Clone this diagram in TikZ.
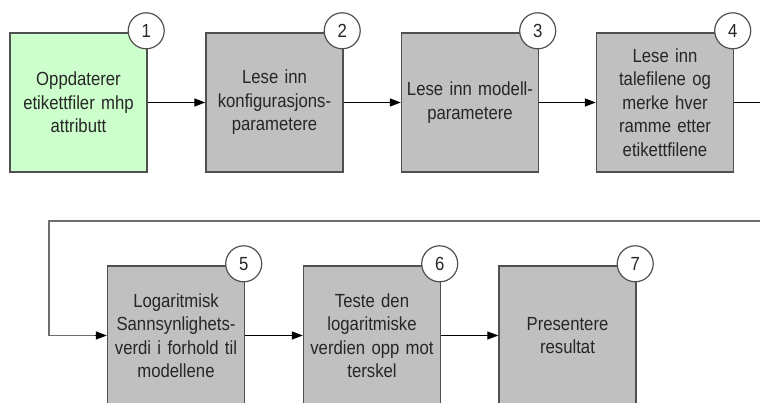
\documentclass[tikz,border=0pt]{standalone}
\usepackage{fontspec}
\setmainfont{Liberation Sans}[FakeStretch=0.88]
\usetikzlibrary{arrows.meta}
\definecolor{stepgray}{HTML}{C0C0C0}
\definecolor{stepgreen}{HTML}{CCFFCC}
\definecolor{edgegray}{HTML}{505050}
\definecolor{loopgray}{HTML}{6E6E6E}
\definecolor{txt}{HTML}{262626}
\begin{document}
\begin{tikzpicture}[x=1pt,y=-1pt,
  every node/.style={font=\fontsize{19}{23.5}\selectfont, text=txt},
  stepbox/.style={draw=edgegray, line width=1.4pt, fill=stepgray,
    minimum width=137pt, minimum height=139pt, text width=132pt,
    align=center, inner sep=0pt},
  numcircle/.style={circle, draw=edgegray, line width=1.2pt, fill=white,
    minimum size=36pt, inner sep=0pt},
  flow/.style={line width=1.3pt, draw=black, -{Triangle[length=11pt,width=8pt]}},
  loopline/.style={line width=1.8pt, draw=loopgray}]
  \useasboundingbox (0,0) rectangle (760,403);

  % first row
  \node[stepbox, fill=stepgreen] (s1) at (78.5,102.5) {Oppdaterer\\etikettfiler mhp\\attributt};
  \node[stepbox] (s2) at (274.5,102.5) {Lese inn\\konfigurasjons-\\parametere};
  \node[stepbox] (s3) at (470,102.5) {Lese inn modell-\\parametere};
  \node[stepbox] (s4) at (665,102.5) {Lese inn\\talefilene og\\merke hver\\ramme etter\\etikettfilene};

  % second row
  \node[stepbox] (s5) at (176,335.5) {Logaritmisk\\Sannsynlighets-\\verdi i forhold til\\modellene};
  \node[stepbox] (s6) at (372,335.5) {Teste den\\logaritmiske\\verdien opp mot\\terskel};
  \node[stepbox] (s7) at (567.5,335.5) {Presentere\\resultat};

  % step numbers
  \foreach \i in {1,...,7}
    \node[numcircle] (n\i) at ([xshift=-1.5pt,yshift=1.5pt]s\i.north east) {\i};

  % connectors within the rows
  \draw[flow] (s1) -- (s2);
  \draw[flow] (s2) -- (s3);
  \draw[flow] (s3) -- (s4);
  \draw[flow] (s5) -- (s6);
  \draw[flow] (s6) -- (s7);

  % wrap-around from the first row to the second
  \coordinate (out) at (762,102.5);
  \coordinate (wrapR) at (762,221);
  \coordinate (wrapL) at (49,221);
  \coordinate (wrapD) at (49,335.5);
  \draw[line width=1.3pt] (s4.east) -- (out);
  \draw[loopline] (wrapR) -- (wrapL) -- (wrapD) -- ([xshift=-11pt]s5.west);
  \draw[flow] ([xshift=-12pt]s5.west) -- (s5.west);
\end{tikzpicture}
\end{document}
